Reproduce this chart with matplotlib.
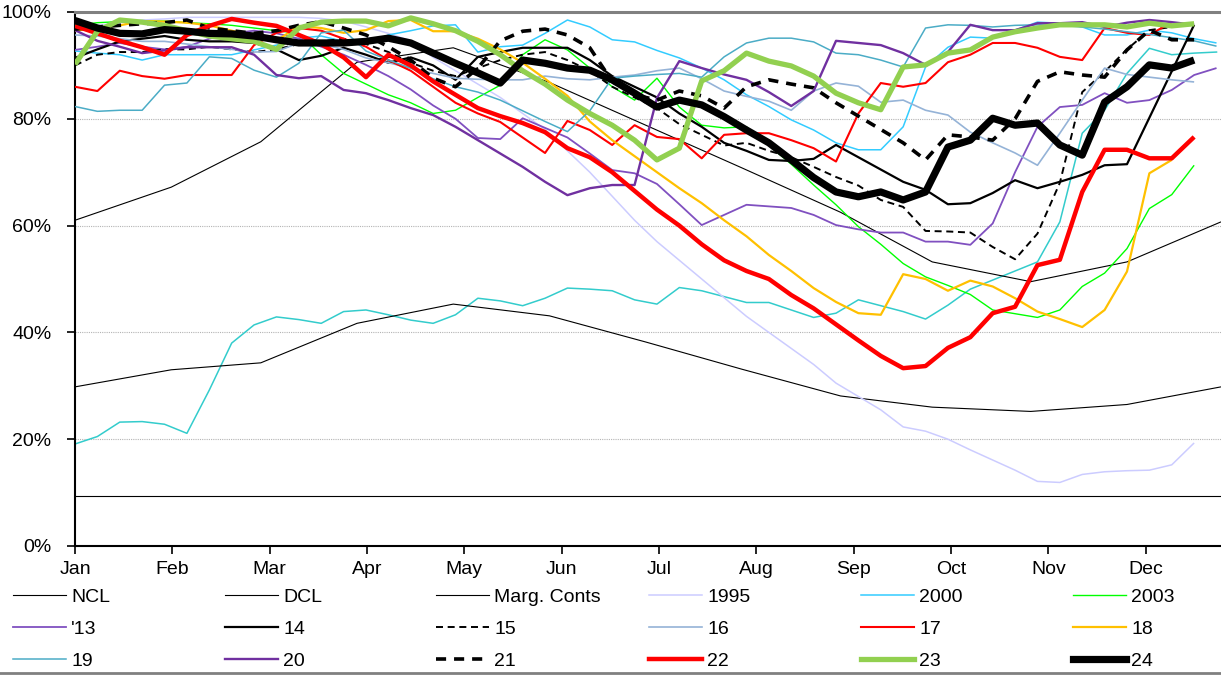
import numpy as np
import matplotlib
matplotlib.use("Agg")
import matplotlib.pyplot as plt
from matplotlib.lines import Line2D
from matplotlib.ticker import PercentFormatter

plt.rcParams['font.family'] = ['Liberation Sans', 'DejaVu Sans']

# ---------------------------------------------------------
# Data (storage, % full) - weekly values from week 0
# ---------------------------------------------------------
months = ["Jan", "Feb", "Mar", "Apr", "May", "Jun",
          "Jul", "Aug", "Sep", "Oct", "Nov", "Dec"]

# rule curves: monthly vertices (x in weeks)
rule_weeks = [0, 4.3, 8.3, 12.6, 16.9, 21.2, 25.5, 29.8, 34.2, 38.3, 42.7, 47.0, 51.2]
ncl = [61.0, 67.2, 75.7, 90.6, 93.3, 86.8, 78.8, 70.8, 62.5, 53.2, 49.5, 53.2, 60.7]
dcl = [29.8, 33.0, 34.3, 41.7, 45.3, 43.1, 38.2, 33.1, 28.1, 26.0, 25.2, 26.5, 29.8]
marg_weeks = [0, 51.2]
marg = [9.4, 9.4]

y1995 = [97.0, 97.5, 98.0, 98.5, 98.7, 99.0, 99.0, 99.0, 99.0, 99.0,
         99.0, 98.8, 98.3, 97.2, 96.0, 94.6, 91.5, 89.0, 86.5, 84.0,
         81.0, 78.0, 74.0, 70.0, 65.5, 61.0, 57.0, 53.5, 50.0, 46.5,
         43.0, 40.0, 37.0, 34.0, 30.5, 28.0, 25.5, 22.3, 21.5, 20.0,
         18.0, 16.1, 14.2, 12.1, 11.9, 13.4, 13.9, 14.1, 14.2, 15.2, 19.3]
y2000 = [92.7, 92.3, 92.0, 91.0, 92.0, 92.0, 92.0, 92.0, 92.9, 93.8,
         95.1, 95.5, 94.5, 94.0, 95.7, 96.5, 97.4, 97.6, 92.5, 93.5,
         93.8, 96.0, 98.5, 97.2, 94.8, 94.4, 92.8, 91.4, 89.5, 87.3,
         84.5, 82.3, 79.8, 77.9, 75.5, 74.2, 74.2, 78.5, 89.7, 93.4,
         95.3, 95.1, 96.6, 98.1, 97.9, 97.2, 95.7, 95.7, 96.6, 96.1, 95.0, 94.2]
y2003 = [97.5, 98.0, 98.2, 98.3, 98.3, 98.0, 97.8, 97.5, 97.0, 96.5,
         96.0, 92.0, 88.5, 86.5, 84.5, 83.0, 81.0, 81.6, 84.0, 86.3,
         92.0, 94.8, 92.9, 89.5, 86.0, 83.5, 87.6, 82.2, 78.8, 78.3,
         78.5, 75.0, 71.5, 67.6, 63.9, 59.8, 56.5, 52.9, 50.4, 48.8,
         47.1, 44.2, 43.5, 42.8, 44.2, 48.6, 51.1, 55.7, 63.2, 65.8, 71.3]
y13 = [92.9, 93.5, 94.2, 93.5, 93.0, 93.5, 95.0, 96.0, 96.5, 96.0,
       95.0, 93.5, 92.0, 90.1, 88.0, 85.5, 82.5, 80.0, 76.4, 76.2,
       80.1, 78.3, 76.5, 73.5, 70.4, 69.8, 67.8, 64.0, 60.1, 62.0,
       63.9, 63.6, 63.3, 62.0, 60.1, 59.3, 58.7, 58.7, 57.0, 57.0,
       56.4, 60.4, 70.0, 78.5, 82.2, 82.6, 84.8, 83.0, 83.5, 85.4, 88.2, 89.5]
y14 = [91.4, 93.0, 94.5, 95.0, 95.5, 94.8, 94.5, 94.5, 94.2, 93.0,
       91.0, 91.8, 93.3, 92.0, 90.5, 91.5, 90.0, 87.3, 91.6, 92.5,
       93.3, 93.3, 93.3, 91.0, 88.0, 86.0, 84.0, 81.0, 78.5, 75.5,
       74.0, 72.3, 72.1, 72.5, 75.1, 72.8, 70.5, 68.2, 66.7, 64.0,
       64.2, 66.1, 68.5, 67.0, 68.2, 69.5, 71.3, 71.5, np.nan, np.nan, 97.6]
y15 = [90.0, 92.0, 92.5, 92.5, 93.0, 93.0, 93.5, 93.0, 92.5, 93.0,
       94.0, 94.5, 95.0, 94.0, 92.5, 90.5, 89.0, 88.0, 89.5, 91.0,
       92.0, 92.5, 91.0, 89.0, 86.0, 84.0, 82.0, 79.0, 77.0, 75.0,
       75.5, 74.0, 72.8, 71.0, 69.1, 67.5, 64.8, 63.5, 59.0, 58.9,
       58.7, 56.0, 53.7, 58.5, 68.0, 85.0, 88.8, 93.0, 96.6, 97.2, 97.9]
y16 = [95.7, 95.5, 95.0, 94.5, 94.5, 94.0, 93.5, 93.0, 92.5, 92.6,
       94.2, 94.0, 93.0, 91.4, 90.5, 89.5, 88.5, 87.6, 87.4, 87.3,
       87.3, 88.0, 87.5, 87.3, 87.8, 88.2, 89.0, 89.5, 87.5, 85.2,
       84.2, 83.3, 81.6, 85.2, 86.7, 86.1, 83.1, 83.5, 81.6, 80.7,
       77.5, 75.5, 73.6, 71.3, 77.3, 83.5, 89.5, 88.3, 87.8, 87.3, 86.9]
y17 = [86.0, 85.2, 89.0, 88.0, 87.5, 88.2, 88.2, 88.2, 93.8, 96.1,
       97.0, 96.5, 95.0, 93.5, 91.0, 89.0, 86.0, 83.0, 81.0, 79.4,
       76.5, 73.6, 79.6, 77.9, 75.1, 78.8, 76.6, 76.2, 72.6, 77.0,
       77.3, 77.3, 76.0, 74.5, 72.0, 81.0, 86.7, 86.0, 86.7, 90.6,
       92.0, 94.2, 94.2, 93.3, 91.6, 91.0, 97.0, 96.1, 95.7, 98.1]
y18 = [96.5, 97.0, 97.5, 98.3, 98.2, 98.0, 97.5, 96.5, 95.5, 94.6,
       97.4, 97.0, 96.1, 96.6, 98.3, 98.5, 96.4, 96.4, 95.0, 93.0,
       90.5, 87.5, 84.3, 79.5, 76.0, 73.0, 70.0, 67.0, 64.2, 61.0,
       58.0, 54.5, 51.5, 48.3, 45.7, 43.6, 43.3, 50.9, 50.0, 47.8,
       49.7, 48.6, 46.4, 43.9, 42.5, 41.0, 44.2, 51.4, 69.8, 72.3]
y19 = [82.3, 81.4, 81.6, 81.6, 86.3, 86.7, 91.6, 91.3, 89.1, 87.8,
       90.4, 96.1, 96.6, 92.7, 91.0, 89.5, 87.5, 86.0, 85.0, 83.5,
       81.5, 79.5, 77.6, 81.5, 87.6, 88.0, 88.3, 88.5, 87.8, 91.6,
       94.2, 95.1, 95.1, 94.4, 92.3, 92.0, 91.0, 89.7, 97.0, 97.6,
       97.5, 97.2, 97.5, 97.6, 97.5, 97.2, 96.8, 96.3, 95.8, 95.2, 94.6, 93.6]
y20 = [96.6, 94.6, 93.5, 92.3, 92.8, 93.4, 93.4, 93.4, 92.0, 88.2,
       87.6, 88.0, 85.4, 84.8, 83.5, 82.0, 80.7, 78.5, 76.0, 73.5,
       71.0, 68.2, 65.7, 67.0, 67.6, 67.6, 83.9, 90.8, 89.5, 88.3,
       87.3, 85.0, 82.4, 85.2, 94.6, 94.2, 93.8, 92.3, 90.1, 92.5,
       97.6, 96.6, 96.6, 97.9, 97.9, 98.1, 97.2, 98.0, 98.5, 98.1, 97.6]
y21 = [96.8, 97.2, 97.5, 97.8, 98.0, 98.5, 97.0, 96.5, 96.0, 96.5,
       97.5, 98.2, 97.0, 95.7, 93.5, 91.0, 87.6, 86.0, 89.5, 94.6,
       96.4, 96.8, 95.7, 93.3, 87.0, 84.5, 83.5, 85.2, 84.3, 82.0,
       86.0, 87.3, 86.5, 85.8, 83.0, 80.5, 78.0, 75.5, 72.3, 77.0,
       76.6, 76.0, 80.0, 87.0, 88.8, 88.2, 87.8, 92.9, 96.6, 94.8, 94.8]
y22 = [97.4, 96.0, 94.6, 93.4, 92.0, 95.7, 97.4, 98.7, 98.0, 97.4,
       95.7, 94.0, 91.5, 87.8, 92.0, 90.0, 87.0, 84.5, 82.0, 80.5,
       79.2, 77.5, 74.5, 72.8, 70.0, 66.5, 63.0, 60.0, 56.5, 53.5,
       51.5, 50.0, 47.0, 44.5, 41.5, 38.5, 35.6, 33.3, 33.7, 37.1,
       39.1, 43.6, 44.8, 52.6, 53.6, 66.3, 74.2, 74.2, 72.6, 72.6, 76.6]
y23 = [90.2, 96.4, 98.5, 98.1, 97.5, 96.5, 95.5, 95.0, 94.5, 93.0,
       97.0, 98.1, 98.3, 98.3, 97.4, 98.9, 97.8, 96.5, 94.5, 92.0,
       89.0, 86.5, 83.5, 81.0, 78.8, 76.0, 72.3, 74.5, 87.1, 89.0,
       92.3, 90.8, 89.9, 88.0, 84.8, 83.0, 81.7, 89.7, 90.1, 92.3,
       92.9, 95.3, 96.3, 97.0, 97.6, 97.6, 97.6, 97.2, 97.9, 97.4, 97.8]
y24 = [98.4, 97.0, 96.0, 95.9, 96.7, 96.4, 96.0, 95.9, 95.5, 94.8,
       94.2, 94.2, 94.2, 94.5, 95.1, 94.2, 92.3, 90.4, 88.6, 86.7,
       91.0, 90.4, 89.5, 89.1, 87.3, 84.8, 82.2, 83.5, 82.6, 80.4,
       77.9, 75.5, 72.3, 69.0, 66.3, 65.4, 66.3, 64.8, 66.3, 74.7,
       76.0, 80.1, 78.8, 79.2, 75.1, 73.2, 83.1, 86.0, 90.1, 89.5, 91.0]
# unlabelled turquoise series
y_extra = [19.1, 20.5, 23.2, 23.3, 22.8, 21.1, 29.2, 38.0, 41.4, 42.9,
           42.4, 41.7, 43.9, 44.2, 43.3, 42.3, 41.7, 43.3, 46.4, 45.9,
           45.0, 46.4, 48.3, 48.1, 47.8, 46.1, 45.3, 48.4, 47.8, 46.7,
           45.6, 45.6, 44.2, 42.8, 43.6, 46.1, 45.0, 43.9, 42.5, 45.1,
           48.1, 49.8, 51.5, 53.2, 60.7, 77.3, 81.6, 88.5, 93.2, 92.0, 92.3, 92.5]


def weekly(vals):
    y = np.array(vals, dtype=float)
    x = np.arange(len(y))
    ok = ~np.isnan(y)
    return x[ok], y[ok]


# (label, x, y, color, linewidth, linestyle)
series = [
    ("NCL", rule_weeks, ncl, "#000000", 0.8, "-"),
    ("DCL", rule_weeks, dcl, "#000000", 0.8, "-"),
    ("Marg. Conts", marg_weeks, marg, "#000000", 0.8, "-"),
    ("1995", *weekly(y1995), "#ccccff", 1.1, "-"),
    ("2000", *weekly(y2000), "#33ccff", 1.1, "-"),
    ("2003", *weekly(y2003), "#00ff00", 1.0, "-"),
    ("'13", *weekly(y13), "#8050c0", 1.3, "-"),
    ("14", *weekly(y14), "#000000", 1.6, "-"),
    ("15", *weekly(y15), "#000000", 1.4, (0, (3.6, 2.4))),
    ("16", *weekly(y16), "#95b3d7", 1.2, "-"),
    ("17", *weekly(y17), "#ff0000", 1.5, "-"),
    ("18", *weekly(y18), "#ffc000", 1.6, "-"),
    ("19", *weekly(y19), "#4bacc6", 1.1, "-"),
    ("20", *weekly(y20), "#7030a0", 1.7, "-"),
    ("21", *weekly(y21), "#000000", 2.6, (0, (2.8, 2.2))),
    ("22", *weekly(y22), "#ff0000", 3.2, "-"),
    ("23", *weekly(y23), "#92d050", 3.8, "-"),
    ("24", *weekly(y24), "#000000", 5.2, "-"),
]

fig = plt.figure(figsize=(12.21, 6.77), dpi=100)
ax = fig.add_axes([75 / 1221, 1 - 546 / 677, 1 - 75 / 1221, (546 - 12) / 677])

ex, ey = weekly(y_extra)
ax.plot(ex, ey, color="#33cccc", lw=1.1, zorder=2)

handles = []
for i, (lab, x, y, col, lw, ls) in enumerate(series):
    ax.plot(x, y, color=col, lw=lw, ls=ls, zorder=3 + i * 0.01,
            solid_joinstyle="round", solid_capstyle="butt")
    handles.append(Line2D([], [], color=col, lw=lw, ls=ls, label=lab))

# axes look
ax.set_xlim(0, 51.2)
ax.set_ylim(0, 100)
month_pos = np.arange(12) * (365.25 / 12 / 7)
ax.set_xticks(month_pos)
ax.set_xticklabels(months)
ax.set_yticks(np.arange(0, 101, 20))
ax.yaxis.set_major_formatter(PercentFormatter(xmax=100, decimals=0))
ax.tick_params(axis="both", direction="out", length=6, width=1.2,
               labelsize=14, colors="black")
ax.tick_params(axis="y", pad=11)
ax.tick_params(axis="x", pad=5)

for v in [20, 40, 60, 80]:
    ax.axhline(v, color="#b4b4b4", lw=0.8, ls=(0, (1, 1)), zorder=1)

ax.spines["right"].set_visible(False)
ax.spines["top"].set_color("#808080")
ax.spines["top"].set_linewidth(2.2)
ax.spines["left"].set_linewidth(1.5)
ax.spines["bottom"].set_linewidth(1.5)

# legend: six columns, three rows (row-major order)
col_x = [13, 225, 436, 649, 861, 1073]
for c in range(6):
    hs = [handles[r * 6 + c] for r in range(3)]
    fig.legend(handles=hs, loc="upper left",
               bbox_to_anchor=(col_x[c] / 1221, 1 - 588 / 677),
               frameon=False, fontsize=14, handlelength=2.7,
               handletextpad=0.3, labelspacing=0.74, borderpad=0,
               borderaxespad=0)

# bottom border line
fig.add_artist(Line2D([0, 1], [1 - 673 / 677] * 2, transform=fig.transFigure,
                      color="#808080", lw=2))

fig.savefig("out.png", dpi=100)
